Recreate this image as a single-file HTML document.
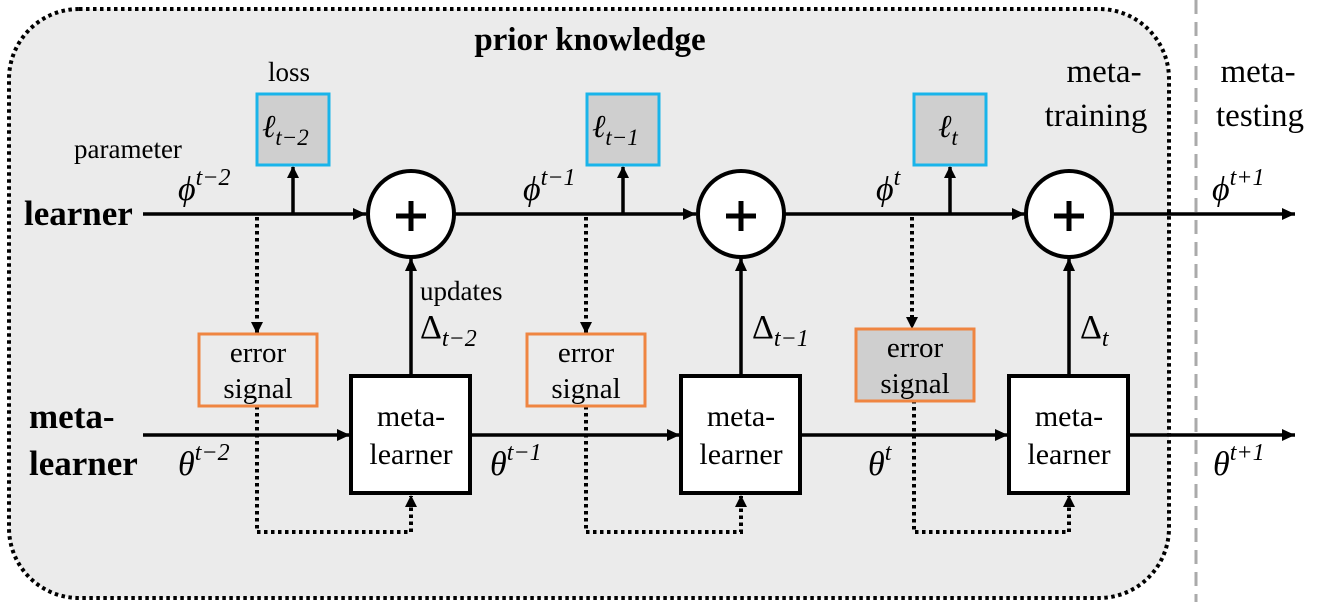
<!DOCTYPE html>
<html><head><meta charset="utf-8"><style>
html,body{margin:0;padding:0;background:#fff;}
svg{display:block;}
svg text{font-family:'Liberation Serif','DejaVu Serif','Noto Serif CJK SC',serif;fill:#000;}
.it{font-style:italic;}
</style></head><body>
<svg width="1335" height="602" viewBox="0 0 1335 602" xmlns="http://www.w3.org/2000/svg" font-family="'Liberation Serif','DejaVu Serif',serif">
<defs>
<marker id="a" markerWidth="12" markerHeight="12" refX="11" refY="6" orient="auto" markerUnits="userSpaceOnUse"><path d="M0,0 L12,6 L0,12 z" fill="#000"/></marker>
<marker id="s" markerWidth="14" markerHeight="14" refX="13" refY="7" orient="auto" markerUnits="userSpaceOnUse"><path d="M0,1 L13,7 L0,13 z" fill="#000"/></marker>
</defs>
<rect x="9" y="9" width="1160" height="589" rx="70" fill="#ebebeb" stroke="#000" stroke-width="4" stroke-dasharray="3.5,3.5"/>
<line x1="1196" y1="0" x2="1196" y2="602" stroke="#aaa" stroke-width="3" stroke-dasharray="14,8"/>

<g stroke="#000" stroke-width="3.5" fill="none">
<line x1="143" y1="214" x2="366" y2="214" marker-end="url(#s)"/>
<line x1="454" y1="214" x2="696" y2="214" marker-end="url(#s)"/>
<line x1="784" y1="214" x2="1025" y2="214" marker-end="url(#s)"/>
<line x1="1113" y1="214" x2="1295" y2="214" marker-end="url(#s)"/>
<line x1="143" y1="435" x2="350" y2="435" marker-end="url(#s)"/>
<line x1="470" y1="435" x2="680" y2="435" marker-end="url(#s)"/>
<line x1="800" y1="435" x2="1008" y2="435" marker-end="url(#s)"/>
<line x1="1128" y1="435" x2="1295" y2="435" marker-end="url(#s)"/>
<line x1="293" y1="214" x2="293" y2="167" marker-end="url(#a)"/>
<line x1="623" y1="214" x2="623" y2="167" marker-end="url(#a)"/>
<line x1="950" y1="214" x2="950" y2="167" marker-end="url(#a)"/>
<line x1="411" y1="375" x2="411" y2="258" marker-end="url(#s)"/>
<line x1="741" y1="375" x2="741" y2="258" marker-end="url(#s)"/>
<line x1="1069" y1="375" x2="1069" y2="258" marker-end="url(#s)"/>
</g>
<g stroke="#000" stroke-width="4" fill="none" stroke-dasharray="3.5,3.5">
<line x1="257" y1="217" x2="257" y2="333" marker-end="url(#a)"/>
<line x1="586" y1="217" x2="586" y2="333" marker-end="url(#a)"/>
<line x1="912" y1="217" x2="912" y2="328" marker-end="url(#a)"/>
<polyline points="257,406 257,532 411,532 411,496" marker-end="url(#a)"/>
<polyline points="586,406 586,532 741,532 741,496" marker-end="url(#a)"/>
<polyline points="914,400 914,532 1069,532 1069,496" marker-end="url(#a)"/>
</g>

<g stroke="#000" stroke-width="4" fill="#fff">
<circle cx="411" cy="214" r="43"/><circle cx="741" cy="214" r="43"/><circle cx="1069" cy="214" r="43"/>
</g>
<g stroke="#000" stroke-width="5">
<line x1="396" y1="216" x2="426" y2="216"/><line x1="411" y1="201" x2="411" y2="231"/>
<line x1="726" y1="216" x2="756" y2="216"/><line x1="741" y1="201" x2="741" y2="231"/>
<line x1="1054" y1="216" x2="1084" y2="216"/><line x1="1069" y1="201" x2="1069" y2="231"/>
</g>

<g fill="#cfcfcf" stroke="#19b4ea" stroke-width="3">
<rect x="257" y="94" width="72" height="71"/><rect x="587" y="94" width="72" height="71"/><rect x="914" y="94" width="72" height="71"/>
</g>
<g font-size="32" class="it">
<text x="262" y="137">ℓ<tspan font-size="23" dy="8">t−2</tspan></text>
<text x="592" y="137">ℓ<tspan font-size="23" dy="8">t−1</tspan></text>
<text x="938" y="137">ℓ<tspan font-size="23" dy="8">t</tspan></text>
</g>

<g stroke="#ef8541" stroke-width="3">
<rect x="199" y="334" width="118" height="72" fill="#ebebeb"/>
<rect x="527" y="334" width="118" height="72" fill="#ebebeb"/>
<rect x="856" y="329" width="118" height="72" fill="#cfcfcf"/>
</g>
<g font-size="29" text-anchor="middle">
<text x="258" y="362">error</text><text x="258" y="398">signal</text>
<text x="586" y="362">error</text><text x="586" y="398">signal</text>
<text x="915" y="357">error</text><text x="915" y="393">signal</text>
</g>

<g fill="#fff" stroke="#000" stroke-width="4">
<rect x="351" y="376" width="119" height="117"/><rect x="681" y="376" width="119" height="117"/><rect x="1009" y="376" width="119" height="117"/>
</g>
<g font-size="30" text-anchor="middle">
<text x="411" y="426">meta-</text><text x="411" y="464">learner</text>
<text x="741" y="426">meta-</text><text x="741" y="464">learner</text>
<text x="1069" y="426">meta-</text><text x="1069" y="464">learner</text>
</g>

<text x="590" y="50" font-size="33" font-weight="bold" text-anchor="middle">prior knowledge</text>
<text x="1104" y="82" font-size="33" text-anchor="middle">meta-</text>
<text x="1096" y="126" font-size="33" text-anchor="middle">training</text>
<text x="1258" y="82" font-size="33" text-anchor="middle">meta-</text>
<text x="1260" y="126" font-size="33" text-anchor="middle">testing</text>
<text x="289" y="81" font-size="27" text-anchor="middle">loss</text>
<text x="74" y="158" font-size="27">parameter</text>
<text x="24" y="225" font-size="35" font-weight="bold">learner</text>
<text x="29" y="428" font-size="35" font-weight="bold">meta-</text>
<text x="29" y="475" font-size="35" font-weight="bold">learner</text>
<text x="420" y="300" font-size="27">updates</text>

<g font-size="34" class="it">
<text x="178" y="200">ϕ<tspan font-size="24" dy="-15">t−2</tspan></text>
<text x="523" y="200">ϕ<tspan font-size="24" dy="-15">t−1</tspan></text>
<text x="876" y="200">ϕ<tspan font-size="24" dy="-15">t</tspan></text>
<text x="1212" y="200">ϕ<tspan font-size="24" dy="-15">t+1</tspan></text>
<text x="178" y="475">θ<tspan font-size="24" dy="-15">t−2</tspan></text>
<text x="490" y="475">θ<tspan font-size="24" dy="-15">t−1</tspan></text>
<text x="868" y="475">θ<tspan font-size="24" dy="-15">t</tspan></text>
<text x="1213" y="475">θ<tspan font-size="24" dy="-15">t+1</tspan></text>
</g>
<g font-size="34">
<text x="420" y="338">Δ<tspan font-size="24" dy="8" class="it">t−2</tspan></text>
<text x="752" y="338">Δ<tspan font-size="24" dy="8" class="it">t−1</tspan></text>
<text x="1080" y="338">Δ<tspan font-size="24" dy="8" class="it">t</tspan></text>
</g>
</svg>
</body></html>
